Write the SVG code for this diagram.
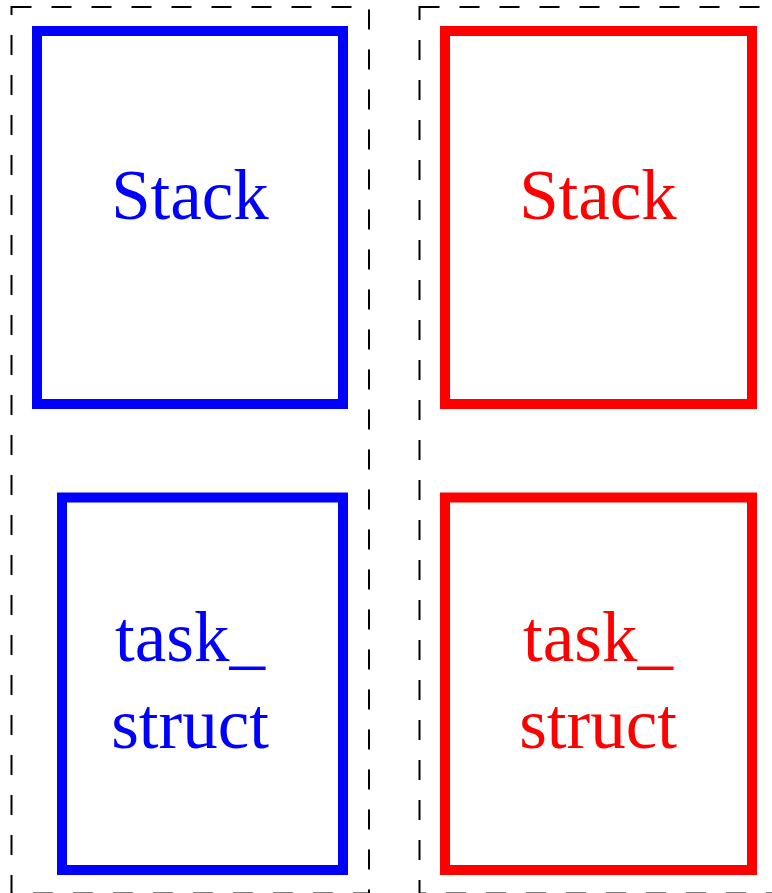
<svg xmlns="http://www.w3.org/2000/svg" width="772" height="893" viewBox="0 0 772 893">
<style>
.frame{fill:none;stroke:#000;stroke-width:2;stroke-dasharray:20 20}
.box{fill:none;stroke-width:10}
.blue{stroke:#0000ff}
.red{stroke:#ff0000}
.t{font-family:"Liberation Serif","Times New Roman",serif;font-size:71px;text-anchor:middle}
.tb{fill:#0000ff}
.tr{fill:#ff0000}
</style>
<rect width="772" height="893" fill="#fff"/>
<g id="group-left">
<rect class="frame" x="11.5" y="7" width="357.5" height="886.5"/>
</g>
<g id="group-right">
<rect class="frame" x="419.5" y="7" width="400" height="886.5"/>
</g>
<g id="stack-blue">
<rect class="box blue" x="37" y="31" width="306" height="373"/>
<text class="t tb" x="190" y="219">Stack</text>
</g>
<g id="task-blue">
<rect class="box blue" x="62" y="497.5" width="281" height="372.5"/>
<text class="t tb" x="190" y="661">task_</text>
<text class="t tb" x="190" y="748">struct</text>
</g>
<g id="stack-red">
<rect class="box red" x="445" y="31" width="307" height="373"/>
<text class="t tr" x="598" y="219">Stack</text>
</g>
<g id="task-red">
<rect class="box red" x="445" y="497.5" width="307" height="372.5"/>
<text class="t tr" x="598" y="661">task_</text>
<text class="t tr" x="598" y="748">struct</text>
</g>
<g id="connectors"></g>
</svg>
